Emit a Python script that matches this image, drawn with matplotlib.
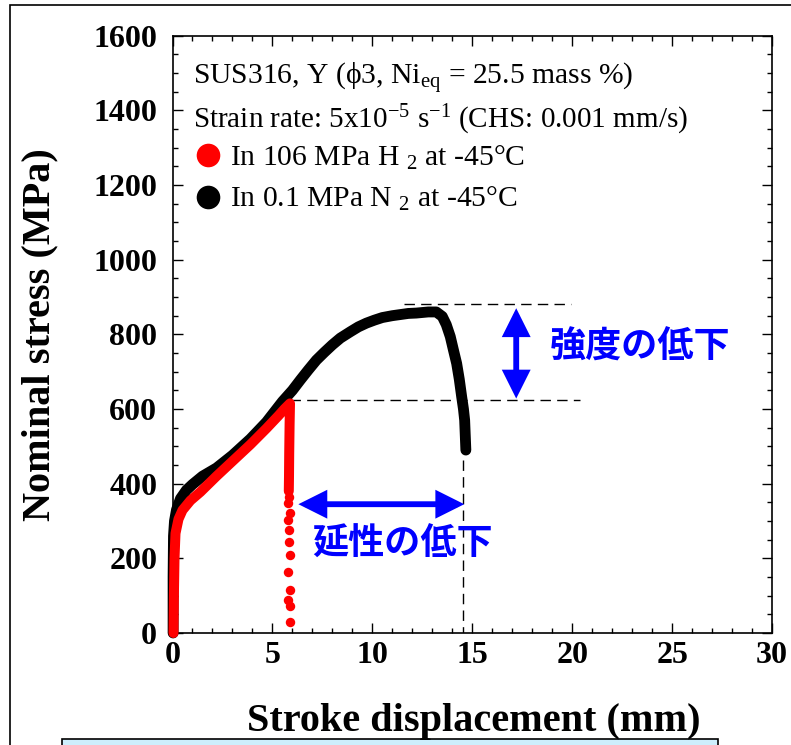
import matplotlib
matplotlib.use("Agg")
import matplotlib.pyplot as plt
from matplotlib.patches import Rectangle, FancyArrowPatch

plt.rcParams['font.family'] = ['Liberation Serif', 'DejaVu Serif']
plt.rcParams['mathtext.fontset'] = 'custom'
plt.rcParams['mathtext.rm'] = 'Liberation Serif'
plt.rcParams['mathtext.it'] = 'Liberation Serif:italic'
plt.rcParams['mathtext.bf'] = 'Liberation Serif:bold'

# ---- data ----
n2_x = [0.03, 0.03, 0.05, 0.1, 0.2, 0.4, 0.7, 1.0, 1.5, 2.2, 3.0, 3.9, 4.7, 5.5, 6.0, 6.4,
        6.8, 7.2, 7.6, 8.0, 8.4, 8.9, 9.3, 9.7, 10.1, 10.5, 11.0, 11.4, 11.8, 12.2, 12.8,
        13.2, 13.5, 13.7, 13.9, 14.05, 14.22, 14.35, 14.47, 14.56, 14.62, 14.68]
n2_y = [0, 150, 260, 300, 330, 360, 383, 398, 420, 442, 476, 520, 565, 620, 650, 678,
        705, 731, 752, 772, 790, 807, 820, 830, 838, 845, 850, 853, 856, 857, 860,
        860, 848, 826, 794, 760, 722, 680, 633, 600, 570, 490]

h2_x = [0.05, 0.07, 0.1, 0.15, 0.3, 0.5, 0.9, 1.4, 2.2, 3.0, 3.9, 4.7, 5.3, 5.6, 5.88,
        5.86, 5.84, 5.83, 5.82]
h2_y = [0, 100, 200, 267, 305, 329, 355, 378, 420, 460, 505, 548, 582, 600, 615,
        560, 480, 420, 380]

h2_tail_x = [5.83, 5.8, 5.86, 5.8, 5.85, 5.82, 5.88, 5.8, 5.86, 5.8, 5.86, 5.88]
h2_tail_y = [365, 347, 321, 303, 276, 245, 209, 164, 115, 89, 71, 30]

strength_hi = 881
strength_lo = 624
elong_end = 14.55

x_ticks = [0, 5, 10, 15, 20, 25, 30]
y_ticks = [0, 200, 400, 600, 800, 1000, 1200, 1400, 1600]

W, H = 791, 745
fig = plt.figure(figsize=(W / 100, H / 100), dpi=100)
fig.patch.set_facecolor('white')

# outer frame and bottom box
fig.patches.append(Rectangle((9.5 / W, -0.1), 1.2, 1 - 5 / H + 0.1, transform=fig.transFigure,
                             fill=False, edgecolor='black', lw=1.2, zorder=0))
fig.patches.append(Rectangle((62 / W, -0.1), (718 - 62) / W, 0.1 + 1 - 739 / H,
                             transform=fig.transFigure, facecolor='#cdeefc',
                             edgecolor='black', lw=1.2, zorder=0))

ax = fig.add_axes([172.5 / W, 1 - 633 / H, (772 - 172.5) / W, (633 - 35.7) / H])
ax.set_xlim(0, 30)
ax.set_ylim(0, 1600)
ax.set_xticks(x_ticks)
ax.set_yticks(y_ticks)
ax.set_xticks(range(0, 31, 1), minor=True)
ax.set_yticks(range(0, 1601, 50), minor=True)
ax.tick_params(which='both', direction='in', top=True, right=True, width=1.0)
ax.tick_params(which='major', length=7.2)
ax.tick_params(which='minor', length=3.6)
ax.tick_params(axis='x', which='major', labelsize=23, pad=6)
ax.tick_params(axis='y', which='major', labelsize=23, pad=11)
for lab in ax.get_xticklabels() + ax.get_yticklabels():
    lab.set_fontweight('bold')
for s in ax.spines.values():
    s.set_linewidth(1.2)

# data curves
ax.plot(n2_x, n2_y, color='black', lw=7.8, solid_capstyle='round', solid_joinstyle='round',
        zorder=3, clip_on=False)
ax.plot(h2_x, h2_y, color='#ff0000', lw=7.2, solid_capstyle='round', solid_joinstyle='round',
        zorder=4, clip_on=False)
ax.plot(h2_tail_x, h2_tail_y, 'o', color='#ff0000', ms=6.8, mec='none', zorder=4)

# dashed guide lines
dash = dict(color='black', lw=1.0, dashes=(7.5, 4.5), zorder=2)
ax.plot([11.6, 19.95], [strength_hi, strength_hi], **dash)
ax.plot([5.9, 20.4], [strength_lo, strength_lo], **dash)
ax.plot([elong_end, elong_end], [463, 0], **dash)

# arrows
blue = '#0000ff'
for (p0, p1) in [((17.2, 870), (17.2, 628)), ((6.3, 345), (14.6, 345))]:
    arr = FancyArrowPatch(p0, p1, arrowstyle='<|-|>,head_length=14,head_width=7',
                          mutation_scale=1, color=blue, lw=4.2, shrinkA=0, shrinkB=0,
                          joinstyle='miter', capstyle='butt', zorder=5)
    ax.add_patch(arr)

ax.text(23.4, 766, '強度の低下', color=blue, fontsize=26, fontweight='bold',
        family=['Noto Sans CJK JP', 'DejaVu Sans'], ha='center', va='center', zorder=6)
ax.text(11.53, 238, '延性の低下', color=blue, fontsize=26, fontweight='bold',
        family=['Noto Sans CJK JP', 'DejaVu Sans'], ha='center', va='center', zorder=6)

# annotation text
fs = 21.3
ax.text(1.03, 1468, r'SUS316, Y (ϕ3, Ni$\mathregular{_{eq}}$ = 25.5 mass %)', fontsize=fs, va='baseline')
ax.text(1.03, 1353, r'Strain rate: 5x10$\mathregular{^{-5}}$ s$\mathregular{^{-1}}$ (CHS: 0.001 mm/s)',
        fontsize=21, va='baseline')
ax.plot([1.76], [1280], 'o', color='#ff0000', ms=17, mec='none', clip_on=False)
ax.plot([1.76], [1168], 'o', color='black', ms=17, mec='none', clip_on=False)
ax.text(2.88, 1251, r'In 106 MPa H $\mathregular{_2}$ at -45°C', fontsize=fs, va='baseline')
ax.text(2.88, 1141, r'In 0.1 MPa N $\mathregular{_2}$ at -45°C', fontsize=fs, va='baseline')

# axis labels
fig.text(40 / W, 0.5 * ((1 - 633 / H) + (1 - 35.7 / H)), 'Nominal stress (MPa)', rotation=90,
         fontsize=29, fontweight='bold', ha='center', va='center')
fig.text(474 / W, 1 - 731 / H, 'Stroke displacement (mm)', fontsize=29, fontweight='bold',
         ha='center', va='baseline')

fig.savefig('out.png', dpi=100)
